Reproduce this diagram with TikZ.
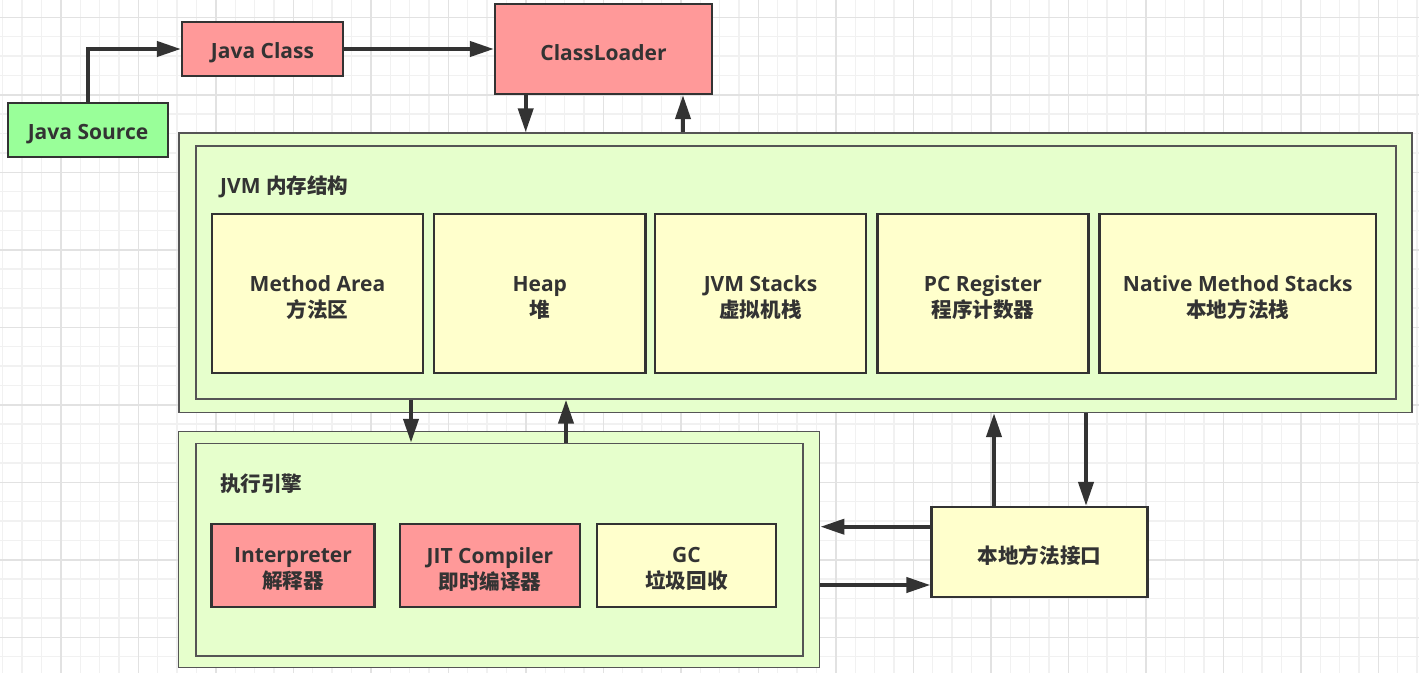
\documentclass[tikz,border=0pt]{standalone}
\usepackage{fontspec}
\setmainfont{Open Sans}
\newfontfamily\zh{Noto Sans CJK SC}[Scale=0.98]
\usetikzlibrary{arrows.meta}
\definecolor{txt}{HTML}{333333}
\definecolor{ln}{HTML}{333333}
\definecolor{cbord}{HTML}{555555}
\definecolor{lgreen}{HTML}{E6FFCC}
\definecolor{lyellow}{HTML}{FFFFCC}
\definecolor{lred}{HTML}{FF9999}
\definecolor{sgreen}{HTML}{99FF99}
\definecolor{gminor}{HTML}{F1F1F1}
\definecolor{gmajor}{HTML}{E2E2E2}
\tikzset{
  lbl/.style={font=\bfseries\fontsize{21}{26}\selectfont, text=txt, align=center},
  tx/.style={lbl, yshift=-4pt, inner sep=0pt},
  boxx/.style={draw=ln, line width=2.2pt, inner sep=0pt, anchor=center},
  cont/.style={draw=cbord, line width=1.4pt, fill=lgreen, inner sep=0pt, anchor=center},
  arr/.style={draw=ln, line width=4pt, -{Triangle[length=24pt,width=15pt]}},
  gl/.style={line width=1.4pt, draw=gminor},
  gL/.style={line width=1.6pt, draw=gmajor},
}
\begin{document}
\begin{tikzpicture}[x=1pt,y=-1pt]
\useasboundingbox (0,0) rectangle (1419,673);
\fill[white] (0,0) rectangle (1419,673);
\begin{scope}
\clip (0,0) rectangle (1419,673);
\foreach \i in {0,...,73} \draw[gl] (2.7+19.375*\i,0) -- ++(0,673);
\foreach \i in {0,...,35} \draw[gl] (0,-2.075+19.375*\i) -- ++(1419,0);
\foreach \i in {-1,...,18} \draw[gL] (60.8+77.5*\i,0) -- ++(0,673);
\foreach \i in {0,...,8} \draw[gL] (0,17.3+77.5*\i) -- ++(1419,0);
\end{scope}

% top row
\node[boxx, fill=sgreen, minimum width=160pt, minimum height=54pt, label={[tx]center:Java Source}] (javasrc) at (88,130) {};
\node[boxx, fill=lred, minimum width=161pt, minimum height=54pt, label={[tx]center:Java Class}] (javacls) at (262.5,49) {};
\node[boxx, fill=lred, minimum width=217pt, minimum height=90pt, label={[tx]center:ClassLoader}] (loader) at (603.5,49) {};

% JVM memory
\node[cont, minimum width=1233pt, minimum height=279.5pt] (jvmOuter) at (795.5,272.75) {};
\node[cont, minimum width=1200pt, minimum height=253pt] (jvmInner) at (796,272.5) {};
\node[lbl, anchor=west, inner sep=0pt] (jvmTitle) at (220,187) {JVM {\zh 内存结构}};
\node[boxx, fill=lyellow, minimum width=211pt, minimum height=159pt, label={[tx]center:{Method Area\\{\zh 方法区}}}] (method) at (317.5,293.5) {};
\node[boxx, fill=lyellow, minimum width=211.5pt, minimum height=159pt, label={[tx]center:{Heap\\{\zh 堆}}}] (heap) at (539.75,293.5) {};
\node[boxx, fill=lyellow, minimum width=211pt, minimum height=159pt, label={[tx]center:{JVM Stacks\\{\zh 虚拟机栈}}}] (stacks) at (760.5,293.5) {};
\node[boxx, fill=lyellow, minimum width=211pt, minimum height=159pt, label={[tx]center:{PC Register\\{\zh 程序计数器}}}] (pc) at (983,293.5) {};
\node[boxx, fill=lyellow, minimum width=276.5pt, minimum height=159pt, label={[tx]center:{Native Method Stacks\\{\zh 本地方法栈}}}] (native) at (1237.75,293.5) {};

% execution engine
\node[cont, minimum width=641pt, minimum height=235.5pt] (exOuter) at (499.25,549.5) {};
\node[cont, minimum width=607pt, minimum height=212.5pt] (exInner) at (499.5,549.7) {};
\node[lbl, anchor=west, inner sep=0pt] (exTitle) at (220,484) {\zh 执行引擎};
\node[boxx, fill=lred, minimum width=163pt, minimum height=82.7pt, label={[tx]center:{Interpreter\\{\zh 解释器}}}] (interp) at (293,565.3) {};
\node[boxx, fill=lred, minimum width=180pt, minimum height=82.7pt, label={[tx]center:{JIT Compiler\\{\zh 即时编译器}}}] (jit) at (490,565.3) {};
\node[boxx, fill=lyellow, minimum width=179pt, minimum height=82.7pt, label={[tx]center:{GC\\{\zh 垃圾回收}}}] (gc) at (686.5,565.3) {};

% native interface
\node[boxx, fill=lyellow, minimum width=216pt, minimum height=90pt, label={[tx]center:{\zh 本地方法接口}}] (nif) at (1039.5,552) {};

% arrow guide coordinates
\coordinate (xa) at (525.7,0);
\coordinate (xb) at (683,0);
\coordinate (xc) at (411,0);
\coordinate (xd) at (566,0);
\coordinate (xe) at (994,0);
\coordinate (xf) at (1086,0);
\coordinate (ya) at (0,526.7);
\coordinate (yb) at (0,585);

% arrows
\draw[arr] (javasrc.north) |- (javacls.west);
\draw[arr] (javacls.east) -- (loader.west);
\draw[arr] (xa |- loader.south) -- (xa |- jvmOuter.north);
\draw[arr] (xb |- jvmOuter.north) -- (xb |- loader.south);
\draw[arr] (xc |- jvmInner.south) -- (xc |- exInner.north);
\draw[arr] (xd |- exInner.north) -- (xd |- jvmInner.south);
\draw[arr] (xe |- nif.north) -- (xe |- jvmOuter.south);
\draw[arr] (xf |- jvmOuter.south) -- (xf |- nif.north);
\draw[arr] (nif.west |- ya) -- (exOuter.east |- ya);
\draw[arr] (exOuter.east |- yb) -- (nif.west |- yb);
\end{tikzpicture}
\end{document}
